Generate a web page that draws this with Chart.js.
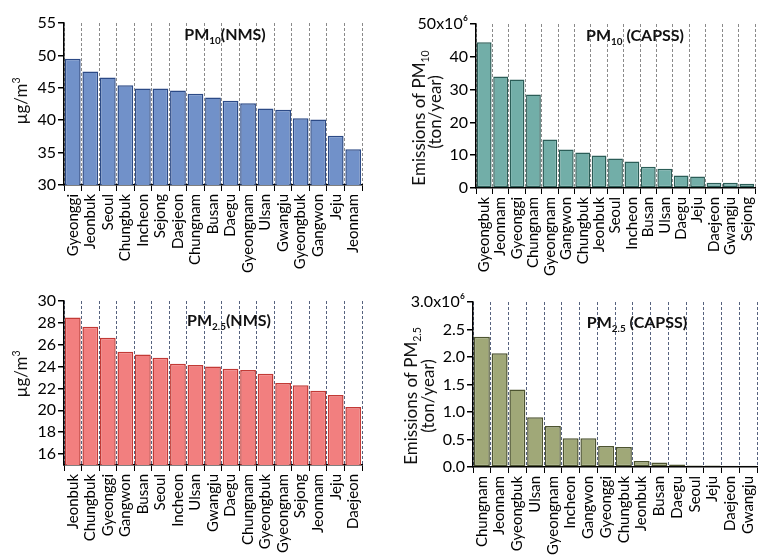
<!doctype html>
<html>
<head>
<meta charset="utf-8">
<title>PM by region</title>
<script src="https://cdn.jsdelivr.net/npm/chart.js@4.4.0/dist/chart.umd.min.js"></script>
<style>
  body { margin:0; background:#fff; width:780px; height:559px; overflow:hidden; position:relative; }
  canvas { position:absolute; }
</style>
</head>
<body>
<canvas id="c1" width="390" height="280" style="left:0;top:0"></canvas>
<canvas id="c2" width="390" height="280" style="left:390px;top:0"></canvas>
<canvas id="c3" width="390" height="279" style="left:0;top:280px"></canvas>
<canvas id="c4" width="390" height="279" style="left:390px;top:280px"></canvas>
<script>
// PM10 concentrations (NMS), ug/m3
var nms10Regions = ['Gyeonggi','Jeonbuk','Seoul','Chungbuk','Incheon','Sejong','Daejeon','Chungnam','Busan',
                    'Daegu','Gyeongnam','Ulsan','Gwangju','Gyeongbuk','Gangwon','Jeju','Jeonnam'];
var nms10Values = [49.5, 47.5, 46.6, 45.4, 44.9, 44.9, 44.6, 44.1, 43.5, 43.0, 42.6, 41.8, 41.6, 40.3, 40.1, 37.6, 35.5];
var nms10Ticks = [30, 35, 40, 45, 50, 55];
var nms10TickLabels = ['30', '35', '40', '45', '50', '55'];

// PM10 emissions (CAPSS), x10^6 ton/year
var capss10Regions = ['Gyeongbuk','Jeonnam','Gyeonggi','Chungnam','Gyeongnam','Gangwon','Chungbuk','Jeonbuk','Seoul',
                      'Incheon','Busan','Ulsan','Daegu','Jeju','Daejeon','Gwangju','Sejong'];
var capss10Values = [44.4, 34.0, 33.1, 28.5, 14.8, 11.7, 10.8, 9.9, 9.0, 8.1, 6.5, 5.9, 3.8, 3.5, 1.6, 1.6, 1.3];
var capss10Ticks = [0, 10, 20, 30, 40, 50];
var capss10TickLabels = ['0', '10', '20', '30', '40', '50x10\u2076'];

// PM2.5 concentrations (NMS), ug/m3
var nms25Regions = ['Jeonbuk','Chungbuk','Gyeonggi','Gangwon','Busan','Seoul','Incheon','Ulsan','Gwangju',
                    'Daegu','Chungnam','Gyeongbuk','Gyeongnam','Sejong','Jeonnam','Jeju','Daejeon'];
var nms25Values = [28.5, 27.65, 26.65, 25.35, 25.1, 24.8, 24.25, 24.15, 24.0, 23.8, 23.7, 23.35, 22.5, 22.3, 21.8, 21.4, 20.3];
var nms25Ticks = [16, 18, 20, 22, 24, 26, 28, 30];
var nms25TickLabels = ['16', '18', '20', '22', '24', '26', '28', '30'];

// PM2.5 emissions (CAPSS), x10^6 ton/year
var capss25Regions = ['Chungnam','Jeonnam','Gyeongbuk','Ulsan','Gyeongnam','Incheon','Gangwon','Gyeonggi',
                      'Chungbuk','Jeonbuk','Busan','Daegu','Seoul','Jeju','Daejeon','Gwangju'];
var capss25Values = [2.37, 2.07, 1.41, 0.905, 0.745, 0.525, 0.525, 0.38, 0.365, 0.11, 0.084, 0.047, 0.026, 0.026, 0.024, 0.024];
var capss25Ticks = [0, 0.5, 1.0, 1.5, 2.0, 2.5, 3.0];
var capss25TickLabels = ['0.0', '0.5', '1.0', '1.5', '2.0', '2.5', '3.0x10\u2076'];

var FONT = 'Lato';

// draws text runs centred on x; run = [text, 0 normal | 1 sub | 2 sup]
function drawRich(ctx, parts, x, y, size, weight) {
  var w = 0;
  parts.forEach(function (p) {
    ctx.font = weight + ' ' + (p[1] ? size * 0.62 : size) + 'px ' + FONT;
    w += ctx.measureText(p[0]).width;
  });
  var cx = x - w / 2;
  ctx.textAlign = 'left';
  ctx.textBaseline = 'alphabetic';
  parts.forEach(function (p) {
    ctx.font = weight + ' ' + (p[1] ? size * 0.62 : size) + 'px ' + FONT;
    var dy = p[1] == 1 ? size * 0.25 : (p[1] == 2 ? -size * 0.42 : 0);
    ctx.fillText(p[0], cx, y + dy);
    cx += ctx.measureText(p[0]).width;
  });
}

function labelPlugin(look) {
  return {
    id: 'panelLabels',
    afterDraw: function (chart) {
      var ctx = chart.ctx;
      ctx.save();
      ctx.fillStyle = '#111';
      drawRich(ctx, look.title, look.tx, look.ty + 6, 16, 'bold');
      look.ylab.forEach(function (l) {
        ctx.save();
        ctx.translate(l.x, l.y);
        ctx.rotate(-Math.PI / 2);
        drawRich(ctx, l.parts, 0, 17 * 0.35, 17, 'normal');
        ctx.restore();
      });
      ctx.restore();
    }
  };
}

function makeChart(id, regions, values, ticks, tickLabels, look) {
  return new Chart(document.getElementById(id), {
    type: 'bar',
    data: {
      labels: regions,
      datasets: [{
        data: values,
        backgroundColor: look.fill,
        borderColor: look.line,
        borderWidth: 1.5,
        borderSkipped: false,
        barPercentage: 1,
        categoryPercentage: 0.9
      }]
    },
    options: {
      responsive: false,
      animation: false,
      devicePixelRatio: 1,
      layout: { padding: { top: look.top, right: look.right, left: 0, bottom: 0 } },
      plugins: { legend: { display: false }, tooltip: { enabled: false } },
      scales: {
        x: {
          grid: { color: look.grid, lineWidth: 1, tickColor: '#000', tickLength: 6, tickBorderDash: [] },
          border: { color: '#000', width: 1.5, dash: [3, 2] },
          ticks: { maxRotation: 90, minRotation: 90, autoSkip: false, padding: 3, color: '#000',
                   font: { family: FONT, size: 15 } },
          afterFit: function (s) { s.height = look.xh; }
        },
        y: {
          min: look.min,
          max: look.max,
          afterBuildTicks: function (s) { s.ticks = ticks.map(function (v) { return { value: v }; }); },
          grid: { drawOnChartArea: false, tickLength: 6, tickColor: '#000', lineWidth: 1.5 },
          border: { color: '#000', width: 1.5 },
          ticks: {
            padding: 2, color: '#000', font: { family: FONT, size: 16 },
            callback: function (v) { return tickLabels[ticks.indexOf(v)]; }
          },
          afterFit: function (s) { s.width = look.yw; }
        }
      }
    },
    plugins: [labelPlugin(look)]
  });
}

makeChart('c1', nms10Regions, nms10Values, nms10Ticks, nms10TickLabels, {
  fill: '#7191c9', line: '#2c4a86', grid: '#8a8a8a', min: 30, max: 55,
  top: 23, right: 28, xh: 95, yw: 64,
  title: [['PM', 0], ['10', 1], ['(NMS)', 0]], tx: 225, ty: 34,
  ylab: [{ x: 21, y: 101, parts: [['\u00b5g/m', 0], ['3', 2]] }]
});

makeChart('c2', capss10Regions, capss10Values, capss10Ticks, capss10TickLabels, {
  fill: '#72aea8', line: '#2b5d57', grid: '#8a8a8a', min: 0, max: 50,
  top: 24, right: 25, xh: 92, yw: 86,
  title: [['PM', 0], ['10', 1], [' (CAPSS)', 0]], tx: 245, ty: 35,
  ylab: [{ x: 29, y: 118, parts: [['Emissions of PM', 0], ['10', 1]] },
         { x: 45, y: 112, parts: [['(ton/year)', 0]] }]
});

makeChart('c3', nms25Regions, nms25Values, nms25Ticks, nms25TickLabels, {
  fill: '#f27f7f', line: '#c23a36', grid: '#56627e', min: 15, max: 30,
  top: 21, right: 28, xh: 94, yw: 64,
  title: [['PM', 0], ['2.5', 1], ['(NMS)', 0]], tx: 229, ty: 40,
  ylab: [{ x: 21, y: 94, parts: [['\u00b5g/m', 0], ['3', 2]] }]
});

makeChart('c4', capss25Regions, capss25Values, capss25Ticks, capss25TickLabels, {
  fill: '#a0a878', line: '#4d5430', grid: '#56627e', min: 0, max: 3,
  top: 22, right: 23, xh: 92, yw: 83,
  title: [['PM', 0], ['2.5', 1], [' (CAPSS)', 0]], tx: 247, ty: 42,
  ylab: [{ x: 21, y: 116, parts: [['Emissions of PM', 0], ['2.5', 1]] },
         { x: 38, y: 116, parts: [['(ton/year)', 0]] }]
});
</script>
</body>
</html>
